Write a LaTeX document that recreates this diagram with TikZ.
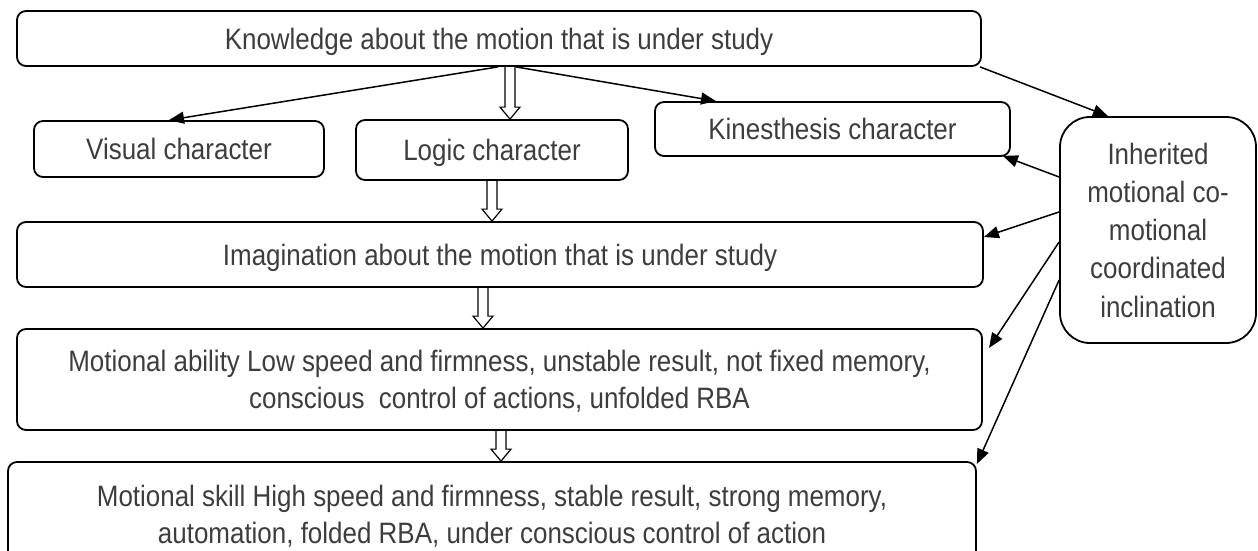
\documentclass[tikz,border=0pt]{standalone}
\usepackage{fontspec}
\setmainfont{Liberation Sans}[FakeStretch=0.88]
\usetikzlibrary{arrows.meta,calc}
\tikzset{box/.style = {draw, line width=1.8pt, rounded corners=9pt, align=center, inner sep=0pt, text depth=0pt, text=black!76, font=\fontsize{29.5}{37}\selectfont},
         side/.style = {box, rounded corners=30pt, font=\fontsize{29.5}{38.3}\selectfont},
         link/.style = {line width=1.5pt, -{Triangle[length=15pt,width=12pt]}}}
\newcommand{\hollowarrow}[2]{\draw[line width=1.2pt] let \p1=#1, \p2=#2 in (\x1-5pt,\y1)--(\x1-5pt,\y2+12pt)--(\x1-10pt,\y2+12pt)--(\x1,\y2)--(\x1+10pt,\y2+12pt)--(\x1+5pt,\y2+12pt)--(\x1+5pt,\y1);}

\begin{document}
\begin{tikzpicture}[x=1pt,y=-1pt]
    \path[use as bounding box](0,0)rectangle(1258,551);
    \clip(0,0)rectangle(1258,551);
    \node[box, minimum width=964pt, minimum height=55pt](know)at(499,38.5){Knowledge about the motion that is under study};
    \node[box, minimum width=290pt, minimum height=56pt](vis)at(179,149){Visual character};
    \node[box, minimum width=272pt, minimum height=60pt](logic)at(492,150){Logic character};
    \node[box, minimum width=355pt, minimum height=54pt](kin)at(832.5,129){Kinesthesis character};
    \node[side, minimum width=196pt, minimum height=226pt](inh)at(1158,230){Inherited\\motional co-\\motional\\coordinated\\inclination};
    \node[box, minimum width=966pt, minimum height=65pt](imag)at(500,254.5){Imagination about the motion that is under study};
    \node[box, minimum width=965pt, minimum height=101pt](abil)at(499.5,379.5){Motional ability Low speed and firmness, unstable result, not fixed memory,\\conscious\ \ control of actions, unfolded RBA};
    \node[box, minimum width=968pt, minimum height=105pt](skill)at(492,514.5){Motional skill High speed and firmness, stable result, strong memory,\\automation, folded RBA, under conscious control of action};
    \draw[link](498,0 |- know.south)--(169,0 |- vis.north);
    \draw[link](516,0 |- know.south)--(716,0 |- kin.north);
    \draw[link](980,0 |- know.south)--(1108,0 |- inh.north);
    \draw[link](inh.west |- 0,177)--($(kin.south east)+(-8,-1)$);
    \draw[link](inh.west |- 0,212)--(imag.east |- 0,237);
    \draw[link](inh.west |- 0,242)--(989,348);
    \draw[link](inh.west |- 0,280)--(skill.east |- 0,464);
    \hollowarrow{(510,0 |- know.south)}{(510,0 |- logic.north)}
    \hollowarrow{(492,0 |- logic.south)}{(492,0 |- imag.north)}
    \hollowarrow{(483,0 |- imag.south)}{(483,0 |- abil.north)}
    \hollowarrow{(501,0 |- abil.south)}{(501,0 |- skill.north)}
\end{tikzpicture}
\end{document}
